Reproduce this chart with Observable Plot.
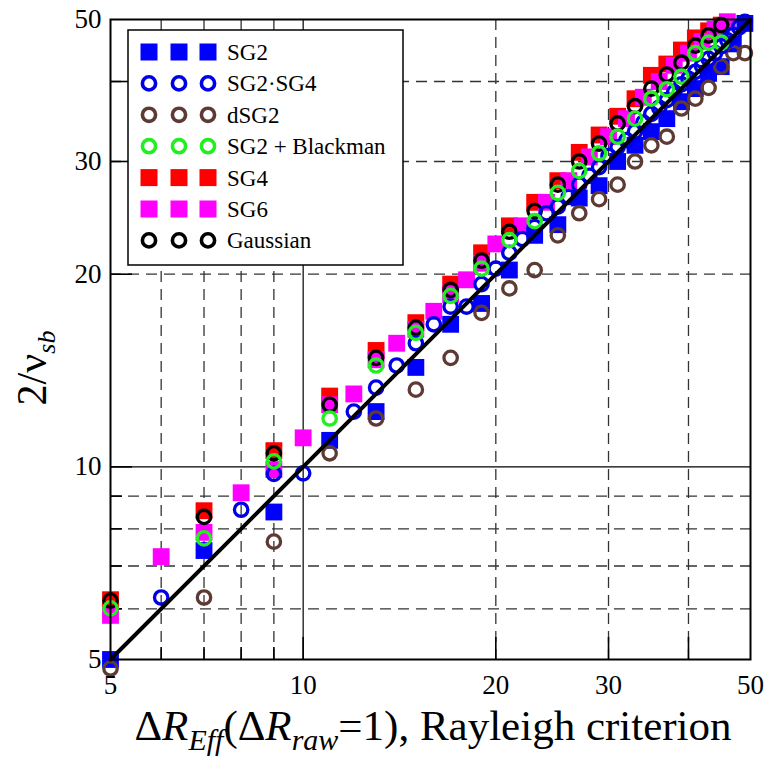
<!DOCTYPE html>
<html><head><meta charset="utf-8">
<script src="https://cdn.jsdelivr.net/npm/d3@7"></script>
<script src="https://cdn.jsdelivr.net/npm/@observablehq/plot@0.6"></script>
<style>
body{margin:0;background:#fff;}
svg, svg text, svg tspan{font-family:"Liberation Serif","Times New Roman",serif !important;}
</style>
</head><body><div id="chart"></div>
<script>
// ---- data ----
const seriesNames = ["SG2", "SG2·SG4", "dSG2", "SG2 + Blackman", "SG4", "SG6", "Gaussian"];
const seriesColors = ["#0000ff", "#0000e6", "#5e3a34", "#22ee22", "#ff0000", "#ff00ff", "#000000"];
const seriesShapes = ["square", "circle", "circle", "circle", "square", "square", "circle"];

const sg2 = [[5,5],[7,7.4],[9,8.5],[11,11.0],[13,12.2],[15,14.3],[17,16.7],[19,18.0],[21,20.3],[23,23.0],[25,23.9],[27,26.3],[29,27.5],[31,30.0],[33,31.8],[35,33.4],[37,35.0],[39,37.2],[41,39.0],[43,41.2],[45,42.2],[47,45.8],[49,49.3]];
const sg2sg4 = [[6,6.25],[8,8.57],[9,9.75],[10,9.77],[12,12.2],[13,13.3],[14,14.4],[15,15.6],[16,16.7],[17,17.8],[18,17.8],[19,19.3],[20,20.4],[21,21.6],[22,22.7],[23,23.7],[24,24.9],[25,25.5],[26,26.4],[27,27.6],[28,28.5],[29,29.4],[30,30.6],[31,31.6],[32,32.4],[33,33.4],[34,34.5],[35,35.6],[36,36.4],[37,37.4],[38,38.5],[39,39.6],[40,40.4],[41,41.4],[42,42.3],[43,43.4],[44,44.3],[45,45.4],[46,46.4],[47,47.3],[48,48.6],[49,49.6]];
const dsg2 = [[5,4.84],[7,6.25],[9,7.64],[11,10.5],[13,11.9],[15,13.2],[17,14.8],[19,17.4],[21,19.0],[23,20.3],[25,23.0],[27,24.9],[29,26.2],[31,27.6],[33,30.0],[35,31.8],[37,32.8],[39,36.3],[41,37.6],[43,39.1],[45,42.2],[47,44.3],[49,44.3]];
const sg2Blackman = [[5,6.01],[7,7.73],[9,10.2],[11,11.9],[13,14.4],[15,16.2],[17,18.5],[19,20.4],[21,22.6],[23,24.2],[25,26.8],[27,29.0],[29,30.9],[31,32.8],[33,35.0],[35,37.6],[37,38.9],[39,40.7],[41,44.3],[43,46.0],[45,46.0]];
const sg4 = [[5,6.2],[7,8.54],[9,10.6],[11,12.9],[13,15.2],[15,16.8],[17,19.3],[19,21.6],[21,23.8],[23,25.9],[25,28.0],[27,31.0],[29,33.0],[31,35.3],[33,37.6],[35,40.9],[37,42.6],[39,44.8],[41,46.8],[43,48.0],[45,49.0]];
const sg6 = [[5,5.86],[6,7.24],[7,7.9],[8,9.11],[9,9.9],[10,11.1],[11,12.5],[12,13.0],[13,14.7],[14,15.6],[15,16.4],[16,17.5],[17,18.6],[18,19.6],[19,20.8],[20,22.3],[22,23.8],[24,25.9],[26,28.0],[28,30.5],[30,32.8],[32,35.0],[34,37.8],[36,40.0],[38,42.4],[40,44.3],[42,46.2],[44,48.3],[46,49.6]];
const gaussian = [[5,6.18],[7,8.35],[9,10.5],[11,12.5],[13,14.8],[15,16.5],[17,18.9],[19,21.0],[21,23.3],[23,25.1],[25,27.6],[27,30.0],[29,32.0],[31,34.4],[33,36.6],[35,39.0],[37,41.0],[39,42.8],[41,45.5],[43,47.2],[45,49.0]];

const refLine = [5, 50];                 // y = x reference line
const xTickLabels = [5, 10, 20, 30, 50];
const yTickLabels = [5, 10, 20, 30, 50];
const dashedGrid = [6, 7, 8, 9, 20, 30, 40];
const solidGrid = [10];
const minorTicks = [6, 7, 8, 9];
const majorTicks = [10, 20, 30, 40];

// ---- chart ----
const W = 765, H = 758;
const mL = 110, mR = 15, mT = 19, mB = 99;
const innerH = H - mT - mB, innerW = W - mL - mR;
const serif = '"Liberation Serif","Times New Roman",serif';

const sq = (data, color) => Plot.dot(data, {x: d => d[0], y: d => d[1], symbol: "square", r: 9.5, fill: color, stroke: "none"});
const ci = (data, color) => Plot.dot(data, {x: d => d[0], y: d => d[1], symbol: "circle", r: 6.7, fill: "none", stroke: color, strokeWidth: 3.3});

const chart = Plot.plot({
  width: W, height: H,
  marginLeft: mL, marginRight: mR, marginTop: mT, marginBottom: mB,
  style: {fontFamily: serif, background: "#fff"},
  x: {type: "log", domain: [5, 50], nice: false},
  y: {type: "log", domain: [5, 50], nice: false},
  marks: [
    Plot.ruleX(dashedGrid, {x: d => d, stroke: "#333", strokeWidth: 1.3, strokeDasharray: "11,7"}),
    Plot.ruleY(dashedGrid, {y: d => d, stroke: "#333", strokeWidth: 1.3, strokeDasharray: "11,7"}),
    Plot.ruleX(solidGrid, {x: d => d, stroke: "#000", strokeWidth: 1.2}),
    Plot.ruleY(solidGrid, {y: d => d, stroke: "#000", strokeWidth: 1.2}),
    Plot.tickX(minorTicks, {x: d => d, insetTop: innerH - 12, stroke: "#000", strokeWidth: 1.6}),
    Plot.tickX(majorTicks, {x: d => d, insetTop: innerH - 22, stroke: "#000", strokeWidth: 1.6}),
    Plot.tickY(minorTicks, {y: d => d, insetRight: innerW - 12, stroke: "#000", strokeWidth: 1.6}),
    Plot.tickY(majorTicks, {y: d => d, insetRight: innerW - 22, stroke: "#000", strokeWidth: 1.6}),
    sq(sg4, seriesColors[4]),
    sq(sg6, seriesColors[5]),
    sq(sg2, seriesColors[0]),
    ci(gaussian, seriesColors[6]),
    ci(dsg2, seriesColors[2]),
    ci(sg2sg4, seriesColors[1]),
    ci(sg2Blackman, seriesColors[3]),
    Plot.line(refLine, {x: d => d, y: d => d, stroke: "#000", strokeWidth: 4}),
    Plot.frame({stroke: "#000", strokeWidth: 2}),
    Plot.axisX({ticks: xTickLabels, tickFormat: d => String(d), tickSize: 0, tickPadding: 15, fontSize: 27, fontFamily: serif, fill: "#000", label: null}),
    Plot.axisY({ticks: yTickLabels, tickFormat: d => String(d), tickSize: 0, tickPadding: 9, fontSize: 27, fontFamily: serif, fill: "#000", label: null})
  ]
});
document.getElementById("chart").appendChild(chart);

// ---- legend ----
const svg = d3.select(chart);
const lg = svg.append("g").attr("text-anchor", "start").attr("font-family", serif);
lg.append("rect").attr("x", 128).attr("y", 30).attr("width", 275).attr("height", 235)
  .attr("fill", "#fff").attr("stroke", "#000").attr("stroke-width", 1.5);
seriesNames.forEach((name, i) => {
  const cy = 52 + i * 31.4;
  [149, 179, 208].forEach(cx => {
    if (seriesShapes[i] === "square") {
      lg.append("rect").attr("x", cx - 8.5).attr("y", cy - 8.5).attr("width", 17).attr("height", 17).attr("fill", seriesColors[i]);
    } else {
      lg.append("circle").attr("cx", cx).attr("cy", cy).attr("r", 6.6).attr("fill", "none")
        .attr("stroke", seriesColors[i]).attr("stroke-width", 3.6);
    }
  });
  lg.append("text").attr("x", 227).attr("y", cy).attr("dy", "0.35em").attr("text-anchor", "start")
    .attr("font-size", 23).attr("fill", "#000").text(name);
});

// ---- axis titles ----
const xt = svg.append("text").attr("x", 433).attr("y", 740).attr("text-anchor", "middle")
  .attr("font-size", 43).attr("fill", "#000");
xt.append("tspan").text("Δ");
xt.append("tspan").attr("font-style", "italic").text("R");
xt.append("tspan").attr("font-style", "italic").attr("font-size", 30).attr("dy", 10).text("Eff");
xt.append("tspan").attr("dy", -10).text("(Δ");
xt.append("tspan").attr("font-style", "italic").text("R");
xt.append("tspan").attr("font-style", "italic").attr("font-size", 30).attr("dy", 10).text("raw");
xt.append("tspan").attr("dy", -10).text("=1), Rayleigh criterion");

const yt = svg.append("text").attr("transform", "translate(46,368) rotate(-90)").attr("text-anchor", "middle")
  .attr("font-size", 42).attr("fill", "#000");
yt.append("tspan").text("2/ν");
yt.append("tspan").attr("font-style", "italic").attr("font-size", 26).attr("dy", 9).text("sb");

svg.selectAll("text").style("font-family", serif);
</script>
</body></html>
